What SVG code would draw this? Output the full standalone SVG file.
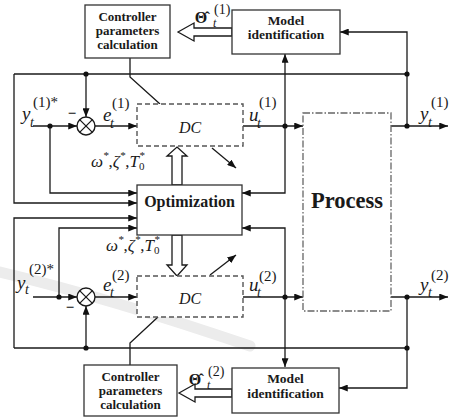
<svg xmlns="http://www.w3.org/2000/svg" width="449" height="419" viewBox="0 0 449 419">
  <defs>
    <marker id="ah" viewBox="0 0 10 8" refX="10" refY="4" markerWidth="9" markerHeight="7" markerUnits="userSpaceOnUse" orient="auto">
      <path d="M0,0 L10,4 L0,8 Z" fill="#111"/>
    </marker>
    <style>
      .ln { fill: none; stroke: #1a1a1a; stroke-width: 1.3; }
      .arr { fill: none; stroke: #1a1a1a; stroke-width: 1.3; marker-end: url(#ah); }
      .box { fill: #fff; stroke: #333; stroke-width: 1.3; }
      .dc { fill: #fff; stroke: #555; stroke-width: 1.4; stroke-dasharray: 5 3; }
      .proc { fill: #fff; stroke: #666; stroke-width: 1.3; stroke-dasharray: 7 2 1.5 2; }
      .hol { fill: #fff; stroke: #1a1a1a; stroke-width: 1.3; }
      .dot { fill: #111; }
      .bt { font-family: "Liberation Serif", "Times New Roman", serif; font-weight: bold; fill: #1a1a1a; text-anchor: middle; }
      .m { font-family: "Liberation Serif", "Times New Roman", serif; font-style: italic; fill: #1a1a1a; }
      .u { font-style: normal; }
      .wm { fill: none; stroke: #ececec; stroke-linecap: round; }
    </style>
  </defs>

  <rect width="449" height="419" fill="#fff"/>

  <!-- faint background swoosh -->
  <path class="wm" d="M 0,272 Q 110,298 250,346" stroke-width="11"/>

  <!-- connectors -->
  <g id="connectors">
    <!-- loop 1 -->
    <path class="ln" d="M14,74 H407"/>
    <path class="arr" d="M14,74 V203 H137"/>
    <path class="arr" d="M86,74 V117"/>
    <path class="arr" d="M33,126 H77"/>
    <path class="arr" d="M50,126 V193 H137"/>
    <path class="arr" d="M95,126 H137"/>
    <path class="arr" d="M243,126 H303"/>
    <path class="arr" d="M285,126 V54"/>
    <path class="arr" d="M285,126 V193 H242"/>
    <path class="arr" d="M391,126 H448"/>
    <path class="arr" d="M407,126 V32 H340"/>
    <path class="ln" d="M130,58 V77 L160,104"/>
    <path class="arr" d="M212,148 L236,168"/>

    <!-- loop 2 -->
    <path class="ln" d="M14,348 H407"/>
    <path class="arr" d="M14,348 V218 H137"/>
    <path class="arr" d="M86,348 V306"/>
    <path class="arr" d="M33,297 H77"/>
    <path class="arr" d="M59,297 V228 H137"/>
    <path class="arr" d="M95,297 H137"/>
    <path class="arr" d="M243,297 H303"/>
    <path class="arr" d="M285,297 V367"/>
    <path class="arr" d="M285,297 V228 H242"/>
    <path class="arr" d="M391,297 H448"/>
    <path class="arr" d="M407,297 V388 H339"/>
    <path class="ln" d="M130,365 V343 L158,317"/>
    <path class="arr" d="M210,275 L236,255"/>

    <!-- hollow arrows -->
    <polygon class="hol" points="178,32 194,23 194,28 232,28 232,36 194,36 194,41"/>
    <polygon class="hol" points="179,393 195,384 195,389 232,389 232,397 195,397 195,402"/>
    <polygon class="hol" points="177,147 187,156 182,156 182,185 172,185 172,156 167,156"/>
    <polygon class="hol" points="177,276 187,265 182,265 182,235 172,235 172,265 167,265"/>

    <!-- junction dots -->
    <circle class="dot" cx="86" cy="74" r="2.6"/>
    <circle class="dot" cx="407" cy="74" r="2.6"/>
    <circle class="dot" cx="50" cy="126" r="2.6"/>
    <circle class="dot" cx="285" cy="126" r="2.6"/>
    <circle class="dot" cx="407" cy="126" r="2.6"/>
    <circle class="dot" cx="59" cy="297" r="2.6"/>
    <circle class="dot" cx="285" cy="297" r="2.6"/>
    <circle class="dot" cx="407" cy="297" r="2.6"/>
    <circle class="dot" cx="86" cy="348" r="2.6"/>
    <circle class="dot" cx="407" cy="348" r="2.6"/>
  </g>

  <!-- summing junctions -->
  <g id="sum1">
    <circle cx="86" cy="126" r="9" fill="#fff" stroke="#1a1a1a" stroke-width="1.4"/>
    <path class="ln" d="M79.6,119.6 L92.4,132.4 M92.4,119.6 L79.6,132.4"/>
    <text class="bt" x="72" y="118" font-size="15" font-weight="normal">−</text>
  </g>
  <g id="sum2">
    <circle cx="86" cy="297" r="9" fill="#fff" stroke="#1a1a1a" stroke-width="1.4"/>
    <path class="ln" d="M79.6,290.6 L92.4,303.4 M92.4,290.6 L79.6,303.4"/>
    <text class="bt" x="70" y="312" font-size="15" font-weight="normal">−</text>
  </g>

  <!-- blocks -->
  <g id="ctrl1">
    <rect class="box" x="85" y="5" width="85" height="53"/>
    <text class="bt" font-size="13" x="127.5" y="21">Controller</text>
    <text class="bt" font-size="13" x="127.5" y="35">parameters</text>
    <text class="bt" font-size="13" x="127.5" y="49">calculation</text>
  </g>
  <g id="model1">
    <rect class="box" x="232" y="10" width="108" height="44"/>
    <text class="bt" font-size="13.5" x="286" y="25">Model</text>
    <text class="bt" font-size="13.5" x="286" y="39">identification</text>
  </g>
  <g id="dc1">
    <rect class="dc" x="137" y="104" width="106" height="42"/>
    <text class="m" font-size="16" x="190" y="133" text-anchor="middle">DC</text>
  </g>
  <g id="optimization">
    <rect class="box" x="137" y="185" width="105" height="50"/>
    <text class="bt" font-size="16" x="189.5" y="207">Optimization</text>
  </g>
  <g id="process">
    <rect class="proc" x="303" y="113" width="88" height="198"/>
    <text class="bt" font-size="22.5" x="347" y="208">Process</text>
  </g>
  <g id="dc2">
    <rect class="dc" x="137" y="276" width="106" height="41"/>
    <text class="m" font-size="16" x="190" y="304" text-anchor="middle">DC</text>
  </g>
  <g id="ctrl2">
    <rect class="box" x="84" y="365" width="93" height="51"/>
    <text class="bt" font-size="13" x="130.5" y="381">Controller</text>
    <text class="bt" font-size="13" x="130.5" y="395">parameters</text>
    <text class="bt" font-size="13" x="130.5" y="409">calculation</text>
  </g>
  <g id="model2">
    <rect class="box" x="232" y="368" width="107" height="45"/>
    <text class="bt" font-size="13.5" x="285.5" y="383">Model</text>
    <text class="bt" font-size="13.5" x="285.5" y="398">identification</text>
  </g>

  <!-- signal labels -->
  <g id="labels">
    <!-- loop 1 -->
    <text class="m" font-size="19" x="22" y="120">y</text>
    <text class="m" font-size="14" x="30" y="127">t</text>
    <text class="m u" font-size="15" x="33" y="107">(1)*</text>

    <text class="m" font-size="19" x="103" y="121">e</text>
    <text class="m" font-size="14" x="110" y="128">t</text>
    <text class="m u" font-size="15" x="112" y="108">(1)</text>

    <text class="m" font-size="19" x="249" y="121">u</text>
    <text class="m" font-size="14" x="257" y="128">t</text>
    <text class="m u" font-size="15" x="259" y="107">(1)</text>

    <text class="m" font-size="19" x="420" y="120">y</text>
    <text class="m" font-size="14" x="428" y="127">t</text>
    <text class="m u" font-size="15" x="431" y="107">(1)</text>

    <text class="m" font-size="17" x="91" y="167">ω<tspan font-size="11" dy="-8">*</tspan><tspan dy="8" class="u">,</tspan>ζ<tspan font-size="11" dy="-8">*</tspan><tspan dy="8" class="u">,</tspan>T<tspan font-size="11" dy="-8">*</tspan><tspan font-size="11" class="u" dx="-5.5" dy="11">0</tspan></text>

    <!-- estimated parameter vector, loop 1 -->
    <text class="bt" font-size="16" x="201" y="23" text-anchor="start">Θ̂</text>
    <text class="m" font-size="12" x="213" y="27">t</text>
    <text class="m u" font-size="14" x="214" y="14">(1)</text>

    <!-- loop 2 -->
    <text class="m" font-size="19" x="17" y="289">y</text>
    <text class="m" font-size="14" x="25" y="294">t</text>
    <text class="m u" font-size="15" x="29" y="274">(2)*</text>

    <text class="m" font-size="19" x="103" y="291">e</text>
    <text class="m" font-size="14" x="110" y="297">t</text>
    <text class="m u" font-size="15" x="112" y="280">(2)</text>

    <text class="m" font-size="19" x="249" y="291">u</text>
    <text class="m" font-size="14" x="257" y="297">t</text>
    <text class="m u" font-size="15" x="259" y="281">(2)</text>

    <text class="m" font-size="19" x="420" y="291">y</text>
    <text class="m" font-size="14" x="428" y="297">t</text>
    <text class="m u" font-size="15" x="431" y="280">(2)</text>

    <text class="m" font-size="17" x="106" y="251">ω<tspan font-size="11" dy="-8">*</tspan><tspan dy="8" class="u">,</tspan>ζ<tspan font-size="11" dy="-8">*</tspan><tspan dy="8" class="u">,</tspan>T<tspan font-size="11" dy="-8">*</tspan><tspan font-size="11" class="u" dx="-5.5" dy="11">0</tspan></text>

    <!-- estimated parameter vector, loop 2 -->
    <text class="bt" font-size="16" x="195" y="385" text-anchor="start">Θ̂</text>
    <text class="m" font-size="12" x="207" y="389">t</text>
    <text class="m u" font-size="14" x="208" y="376">(2)</text>
  </g>
</svg>
